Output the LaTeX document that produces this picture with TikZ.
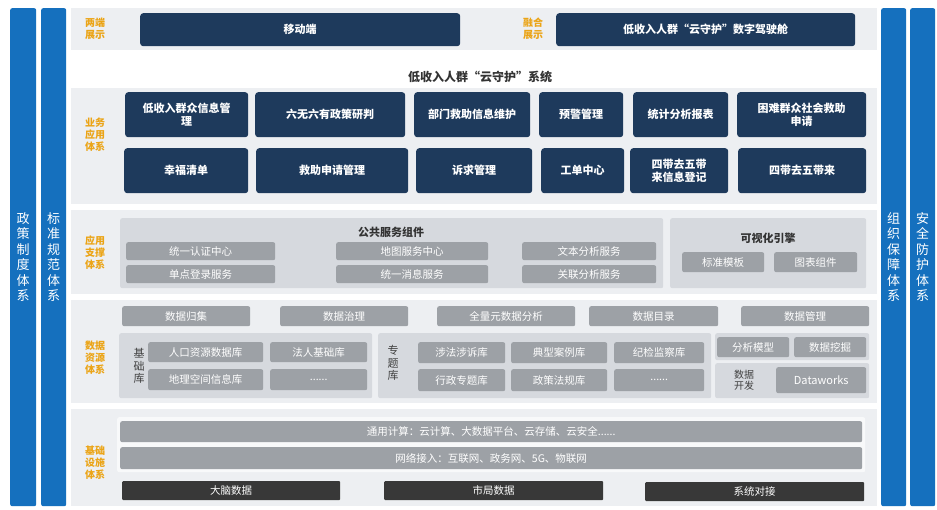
\documentclass[tikz,border=0pt]{standalone}
\usepackage{fontspec}
\setmainfont{Noto Sans CJK SC}
\begin{document}
\begin{tikzpicture}[x=1pt,y=-1pt,
 base/.style={anchor=north west,inner sep=0pt,align=center,text=white},
 dk/.style={base,fill=navy,rounded corners=3pt,font=\fontsize{11}{12.5}\selectfont\bfseries},
 gr/.style={base,fill=gbox,rounded corners=2pt,font=\fontsize{10.5}{11}\selectfont},
 bk/.style={base,fill=black!78,rounded corners=1pt,font=\fontsize{10.5}{11}\selectfont},
 pan/.style={base,fill=panel,rounded corners=2pt},
 band/.style={base,fill=bandc},
 side/.style={base,fill=sideblue,rounded corners=2pt,font=\fontsize{13}{15.5}\selectfont},
 lab/.style={text=labo,font=\fontsize{10}{12}\selectfont\bfseries,align=center,inner sep=0pt},
 dlab/.style={text=black!75,font=\fontsize{11}{12.5}\selectfont,align=center,inner sep=0pt}]
\definecolor{navy}{HTML}{1E3A5C}
\definecolor{gbox}{HTML}{9DA1A6}
\definecolor{panel}{HTML}{D6D9DE}
\definecolor{bandc}{HTML}{EDEFF2}
\definecolor{sideblue}{HTML}{1570BE}
\definecolor{labo}{HTML}{EBA416}
\useasboundingbox[fill=white] (0,0) rectangle (937,510);
% side bars
\node[side,minimum width=26,minimum height=498] (s1) at (10,8) {政\\策\\制\\度\\体\\系};
\node[side,minimum width=25,minimum height=498] (s2) at (41,8) {标\\准\\规\\范\\体\\系};
\node[side,minimum width=25,minimum height=498] (s3) at (881,8) {组\\织\\保\\障\\体\\系};
\node[side,minimum width=25,minimum height=498] (s4) at (910,8) {安\\全\\防\\护\\体\\系};
% bands
\node[band,minimum width=806,minimum height=42] (b1) at (71,8) {};
\node[band,minimum width=806,minimum height=116] (b2) at (71,88) {};
\node[band,minimum width=806,minimum height=84] (b3) at (71,210) {};
\node[band,minimum width=806,minimum height=103] (b4) at (71,300) {};
\node[band,minimum width=806,minimum height=97] (b5) at (71,409) {};
% top
\node[lab] (l1) at (95,29) {两端\\展示};
\node[dk,minimum width=320,minimum height=33] (m1) at (140,13) {移动端};
\node[lab] (l2) at (533,29) {融合\\展示};
\node[dk,minimum width=299,minimum height=33] (m2) at (556,13) {低收入人群“云守护”数字驾驶舱};
\node[font=\fontsize{12}{13}\selectfont\bfseries,text=black!80] (t) at (480,77) {低收入人群“云守护”系统};
% business
\node[lab] (l3) at (95,135) {业务\\应用\\体系};
\node[dk,minimum width=123,minimum height=45] (a1) at (125,92) {低收入群众信息管\\理};
\node[dk,minimum width=150,minimum height=45] (a2) at (255,92) {六无六有政策研判};
\node[dk,minimum width=116,minimum height=45] (a3) at (414,92) {部门救助信息维护};
\node[dk,minimum width=84,minimum height=45] (a4) at (539,92) {预警管理};
\node[dk,minimum width=95,minimum height=45] (a5) at (633,92) {统计分析报表};
\node[dk,minimum width=129,minimum height=45] (a6) at (737,92) {困难群众社会救助\\申请};
\node[dk,minimum width=124,minimum height=45] (c1) at (124,148) {幸福清单};
\node[dk,minimum width=152,minimum height=45] (c2) at (256,148) {救助申请管理};
\node[dk,minimum width=116,minimum height=45] (c3) at (416,148) {诉求管理};
\node[dk,minimum width=83,minimum height=45] (c4) at (541,148) {工单中心};
\node[dk,minimum width=98,minimum height=45] (c5) at (630,148) {四带去五带\\来信息登记};
\node[dk,minimum width=128,minimum height=45] (c6) at (738,148) {四带去五带来};
% app support
\node[lab] (l4) at (95,253) {应用\\支撑\\体系};
\node[pan,minimum width=543,minimum height=70] (p1) at (120,218) {};
\node[font=\fontsize{11}{12}\selectfont\bfseries,text=black!80] (p1t) at (391,232) {公共服务组件};
\node[gr,minimum width=149,minimum height=18] (u1) at (126,242) {统一认证中心};
\node[gr,minimum width=149,minimum height=18] (u2) at (126,265) {单点登录服务};
\node[gr,minimum width=152,minimum height=18] (u3) at (336,242) {地图服务中心};
\node[gr,minimum width=152,minimum height=18] (u4) at (336,265) {统一消息服务};
\node[gr,minimum width=134,minimum height=18] (u5) at (522,242) {文本分析服务};
\node[gr,minimum width=134,minimum height=18] (u6) at (522,265) {关联分析服务};
\node[pan,minimum width=196,minimum height=70] (p2) at (670,218) {};
\node[font=\fontsize{11}{12}\selectfont\bfseries,text=black!80] (p2t) at (768,238) {可视化引擎};
\node[gr,minimum width=82,minimum height=20] (v1) at (682,252) {标准模板};
\node[gr,minimum width=83,minimum height=20] (v2) at (774,252) {图表组件};
% data
\node[lab] (l5) at (95,358) {数据\\资源\\体系};
\node[gr,minimum width=128,minimum height=20] (d1) at (122,306) {数据归集};
\node[gr,minimum width=128,minimum height=20] (d2) at (280,306) {数据治理};
\node[gr,minimum width=138,minimum height=20] (d3) at (437,306) {全量元数据分析};
\node[gr,minimum width=129,minimum height=20] (d4) at (589,306) {数据目录};
\node[gr,minimum width=128,minimum height=20] (d5) at (741,306) {数据管理};
\node[pan,minimum width=253,minimum height=65] (q1) at (119,333) {};
\node[pan,minimum width=333,minimum height=65] (q2) at (378,333) {};
\node[pan,minimum width=154,minimum height=27] (q3) at (715,333) {};
\node[pan,minimum width=154,minimum height=35] (q4) at (715,363) {};
\node[dlab] (k1) at (139,366) {基\\础\\库};
\node[gr,minimum width=115,minimum height=20] (e1) at (148,342) {人口资源数据库};
\node[gr,minimum width=97,minimum height=20] (e2) at (270,342) {法人基础库};
\node[gr,minimum width=115,minimum height=21] (e3) at (148,369) {地理空间信息库};
\node[gr,minimum width=97,minimum height=21] (e4) at (270,369) {......};
\node[dlab] (k2) at (393,363) {专\\题\\库};
\node[gr,minimum width=87,minimum height=21] (f1) at (418,342) {涉法涉诉库};
\node[gr,minimum width=96,minimum height=21] (f2) at (511,342) {典型案例库};
\node[gr,minimum width=90,minimum height=21] (f3) at (614,342) {纪检监察库};
\node[gr,minimum width=87,minimum height=22] (f4) at (418,369) {行政专题库};
\node[gr,minimum width=96,minimum height=22] (f5) at (511,369) {政策法规库};
\node[gr,minimum width=90,minimum height=22] (f6) at (614,369) {......};
\node[gr,minimum width=72,minimum height=20] (g1) at (717,337) {分析模型};
\node[gr,minimum width=72,minimum height=20] (g2) at (794,337) {数据挖掘};
\node[dlab,font=\fontsize{10}{11}\selectfont] (k3) at (744,380) {数据\\开发};
\node[gr,font=\fontsize{11}{12}\selectfont,minimum width=90,minimum height=26] (g3) at (776,367) {Dataworks};
% infrastructure
\node[lab] (l6) at (95,463) {基础\\设施\\体系};
\node[pan,fill=white!60!bandc,minimum width=748,minimum height=55] (q5) at (117,417) {};
\node[gr,minimum width=742,minimum height=21] (h1) at (120,421) {通用计算：云计算、大数据平台、云存储、云安全......};
\node[gr,minimum width=742,minimum height=22] (h2) at (120,447) {网络接入：互联网、政务网、5G、物联网};
\node[bk,minimum width=218,minimum height=19] (x1) at (122,481) {大脑数据};
\node[bk,minimum width=219,minimum height=19] (x2) at (384,481) {市局数据};
\node[bk,minimum width=219,minimum height=19] (x3) at (645,482) {系统对接};
\end{tikzpicture}
\end{document}
